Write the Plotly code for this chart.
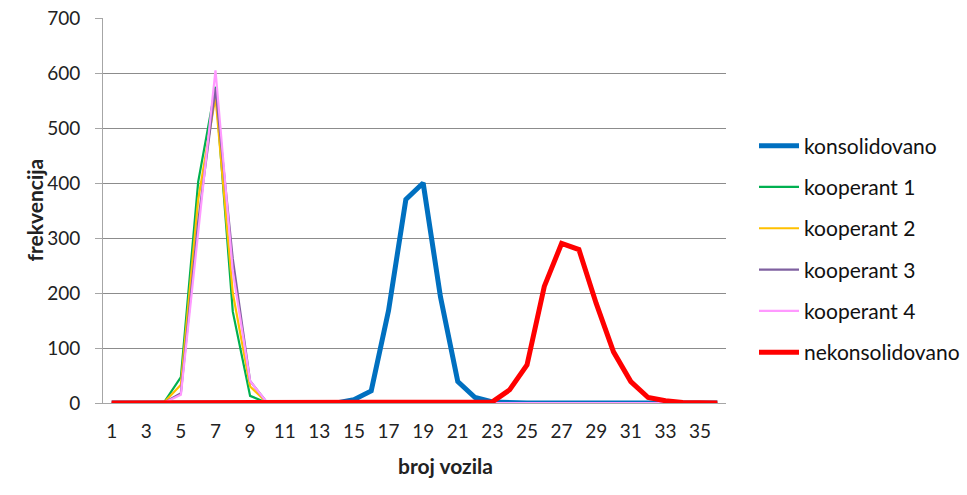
import plotly.graph_objects as go

# broj vozila (kategorije 1..36)
broj_vozila = list(range(1, 37))
tick_vals = list(range(1, 36, 2))
tick_text = [str(v) for v in tick_vals]

konsolidovano = [0, 0, 0, 0, 0, 0, 0, 0, 0, 0, 0, 0, 0, 0, 6, 22, 168, 370, 400, 193,
                 39, 10, 2, 0, 0, 0, 0, 0, 0, 0, 0, 0, 0, 0, 0, 0]
kooperant_1 = [0, 0, 0, 0, 47, 402, 575, 166, 13, 0, 0, 0, 0, 0, 0, 0, 0, 0, 0, 0,
               0, 0, 0, 0, 0, 0, 0, 0, 0, 0, 0, 0, 0, 0, 0, 0]
kooperant_2 = [0, 0, 0, 0, 33, 370, 557, 200, 30, 0, 0, 0, 0, 0, 0, 0, 0, 0, 0, 0,
               0, 0, 0, 0, 0, 0, 0, 0, 0, 0, 0, 0, 0, 0, 0, 0]
kooperant_3 = [0, 0, 0, 0, 18, 330, 572, 262, 40, 0, 0, 0, 0, 0, 0, 0, 0, 0, 0, 0,
               0, 0, 0, 0, 0, 0, 0, 0, 0, 0, 0, 0, 0, 0, 0, 0]
kooperant_4 = [0, 0, 0, 0, 15, 310, 605, 240, 40, 0, 0, 0, 0, 0, 0, 0, 0, 0, 0, 0,
               0, 0, 0, 0, 0, 0, 0, 0, 0, 0, 0, 0, 0, 0, 0, 0]
nekonsolidovano = [0, 0, 0, 0, 0, 0, 0, 0, 0, 0, 0, 0, 0, 0, 0, 0, 0, 0, 0, 0,
                   0, 0, 2, 24, 69, 212, 290, 279, 181, 93, 39, 10, 4, 1, 0, 0]

serije = [
    ("konsolidovano", konsolidovano, "#0070C0", 5),
    ("kooperant 1", kooperant_1, "#00B050", 2.2),
    ("kooperant 2", kooperant_2, "#FFC000", 2.2),
    ("kooperant 3", kooperant_3, "#7F60A0", 2.2),
    ("kooperant 4", kooperant_4, "#FF99FF", 2.2),
    ("nekonsolidovano", nekonsolidovano, "#FF0000", 5),
]

FONT = "Lato, Calibri, Arial, sans-serif"

fig = go.Figure()
for ime, vrijednosti, boja, debljina in serije:
    fig.add_trace(go.Scatter(
        x=broj_vozila, y=vrijednosti, name=ime, mode="lines",
        legendgroup=ime,
        line=dict(color=boja, width=debljina),
    ))

# polje crteža u pikselima: x 103..726, y 18..403
L, R, T, B = 103, 241, 18, 92
pw, ph = 967 - L - R, 495 - T - B


def px_x(p):
    return (p - L) / pw


def px_y(p):
    return (495 - B - p) / ph


fig.update_layout(
    width=967, height=495,
    margin=dict(l=L, r=R, t=T, b=B, autoexpand=False),
    paper_bgcolor="white", plot_bgcolor="white",
    font=dict(family=FONT, size=19, color="#222"),
    showlegend=True,
    legend=dict(x=px_x(754), y=px_y(249), xanchor="left", yanchor="middle",
                font=dict(size=21, color="#111"), tracegroupgap=11,
                itemwidth=40),
    xaxis=dict(
        range=[0.5, 36.5], tickvals=tick_vals, ticktext=tick_text,
        showgrid=False, showline=True, linecolor="#A6A6A6", linewidth=1,
        ticks="", ticklabelstandoff=11, zeroline=False,
    ),
    yaxis=dict(
        range=[0, 700], dtick=100, showgrid=True, gridcolor="#8C8C8C",
        gridwidth=1, showline=True, linecolor="#A6A6A6", linewidth=1,
        ticks="outside", ticklen=7, tickcolor="#A6A6A6",
        ticklabelstandoff=11, zeroline=False,
    ),
    annotations=[
        dict(text="<b>frekvencija</b>", x=px_x(19), y=px_y(210),
             xref="paper", yref="paper", showarrow=False, textangle=-90,
             font=dict(size=21)),
        dict(text="<b>broj vozila</b>", x=px_x(445), y=px_y(480),
             xref="paper", yref="paper", showarrow=False, font=dict(size=21)),
    ],
)

# bez margine tijela stranice, da grafik počne u gornjem lijevom uglu
fig.write_html("out.html", config={"displayModeBar": False},
               post_script="document.body.style.margin='0';")
